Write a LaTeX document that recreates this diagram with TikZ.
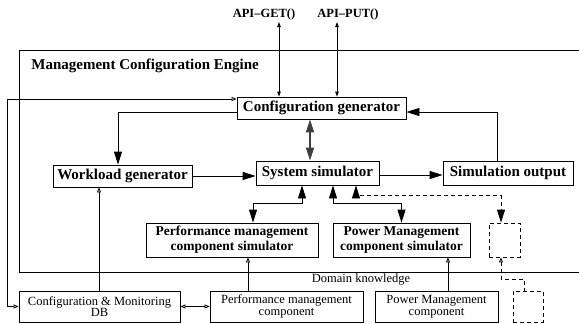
\documentclass[tikz,border=0pt]{standalone}
\usepackage{fontspec}
\setmainfont{Liberation Serif}
\usetikzlibrary{arrows.meta}
\begin{document}
\begin{tikzpicture}[x=1pt,y=-1pt,
  line width=0.8pt,
  boxa/.style={draw,rectangle,inner sep=0pt,align=center,font=\fontsize{15}{17}\selectfont\bfseries},
  boxb/.style={draw,rectangle,inner sep=0pt,align=center,font=\fontsize{13.5}{15}\selectfont\bfseries},
  boxc/.style={draw,rectangle,inner sep=0pt,align=center,font=\fontsize{12.5}{11.5}\selectfont},
  dbox/.style={draw,rectangle,inner sep=0pt,dash pattern=on 4pt off 3pt},
  sa/.style={{Triangle[length=5pt,width=3.5pt]}-{Triangle[length=5pt,width=3.5pt]}},
  ba/.style={-{Triangle[length=13pt,width=8pt]}},
  bba/.style={{Triangle[length=13pt,width=8pt]}-{Triangle[length=13pt,width=8pt]}},
  oa/.style={-{Triangle[open,length=5pt,width=4pt]}},
  ooa/.style={{Triangle[open,length=5pt,width=4pt]}-{Triangle[open,length=5pt,width=4pt]}},
  dsh/.style={dash pattern=on 4pt off 3pt}
]
\useasboundingbox (0,0) rectangle (579,324);
% outer frame
\draw (579,50) -- (19,50) -- (19,272) -- (579,272);
\node[anchor=west,font=\fontsize{15}{17}\selectfont\bfseries,inner sep=0pt] (title) at (31,66) {Management Configuration Engine};
\node[font=\fontsize{12.5}{14}\selectfont\bfseries,inner sep=0pt] (get) at (264,14) {API--GET()};
\node[font=\fontsize{12.5}{14}\selectfont\bfseries,inner sep=0pt] (put) at (348,14) {API--PUT()};
\node[font=\fontsize{12.5}{14}\selectfont,inner sep=0pt] (dom) at (361,280) {Domain knowledge};

\node[boxa,minimum width=169pt,minimum height=22pt] (cg) at (321.5,108) {Configuration generator};
\node[boxa,minimum width=139pt,minimum height=22pt] (wg) at (122.5,176) {Workload generator};
\node[boxa,minimum width=123pt,minimum height=24pt] (ss) at (317.5,173) {System simulator};
\node[boxa,minimum width=130pt,minimum height=24pt] (so) at (508,173) {Simulation output};
\node[boxb,minimum width=172pt,minimum height=34pt] (ps) at (232,240) {Performance management\\component simulator};
\node[boxb,minimum width=137pt,minimum height=34pt] (pws) at (401.5,240) {Power Management\\component simulator};
\node[boxc,minimum width=161pt,minimum height=31pt] (db) at (99.5,306.5) {Configuration \& Monitoring\\DB};
\node[boxc,minimum width=153pt,minimum height=31pt] (pc) at (286.5,306.5) {Performance management\\component};
\node[boxc,minimum width=123pt,minimum height=31pt] (pwc) at (436.5,306.5) {Power Management\\component};
\node[dbox,minimum width=31pt,minimum height=34pt] (d1) at (504.5,240) {};
\node[dbox,minimum width=30pt,minimum height=31pt] (d2) at (528,306.5) {};

% API arrows
\coordinate (g1) at (279,22);
\coordinate (p1) at (337,22);
\draw[sa] (g1) -- (g1 |- cg.north);
\draw[sa] (p1) -- (p1 |- cg.north);

% configuration generator to workload generator
\draw[ba] ([yshift=-4pt]cg.west) -| ([xshift=-4.5pt]wg.north);

% DB loop to configuration generator
\coordinate (lp) at (7,99);
\draw[ooa] ([yshift=9pt]cg.west) -- (lp) |- (db.west);

% DB to workload generator
\draw[oa] (db.north -| 99,0) -- (99,0 |- wg.south);

% DB <-> performance component
\draw[ooa] (db.east) -- (pc.west);

% components to simulators
\coordinate (q1) at ([xshift=16pt]ps.south);
\draw[oa] (pc.north -| q1) -- (q1);
\coordinate (q2) at ([xshift=11.5pt]pwc.north);
\draw[oa] (q2) -- (q2 |- pws.south);

% config generator <-> system simulator
\coordinate (q3) at ([xshift=-11.5pt]cg.south);
\draw[bba,line width=1.8pt,black!75] (q3) -- (q3 |- ss.north);

% workload -> system simulator
\draw[ba] (wg.east) -- (wg.east -| ss.west);

% system simulator -> simulation output
\draw[ba] ([yshift=-2pt]ss.east) -- ([yshift=-2pt]so.west);

% simulation output -> config generator
\draw[ba] ([xshift=-11pt]so.north) |- ([yshift=-4pt]cg.east);

% system simulator <-> simulators
\draw[bba] ([xshift=-15.5pt]ss.south) -- ++(0,18) -| ([xshift=21pt]ps.north);
\draw[bba] ([xshift=15.5pt]ss.south) -- ++(0,18) -| (pws.north);

% dashed connections
\draw[bba,dsh] ([xshift=38.5pt]ss.south) -- ++(0,10) -| ([xshift=-3.5pt]d1.north);
\draw[dsh,{Triangle[open,length=5pt,width=4pt]}-] ([xshift=-3.5pt]d1.south) -- ++(0,22) -| ([xshift=-4pt]d2.north);
\end{tikzpicture}
\end{document}
